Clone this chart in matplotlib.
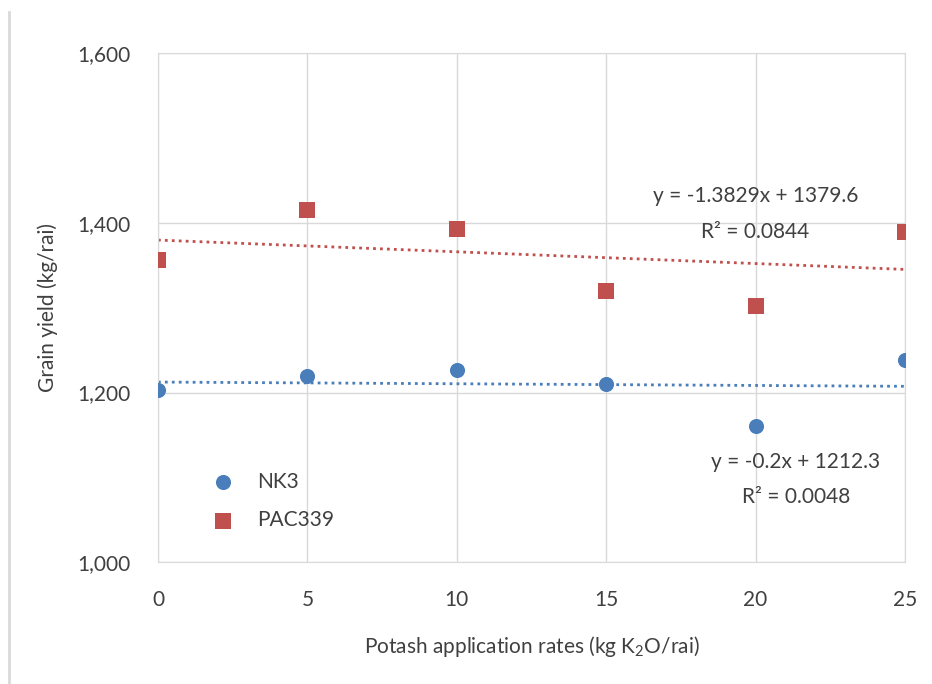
import numpy as np
import matplotlib.pyplot as plt
from matplotlib.lines import Line2D

plt.rcParams['font.family'] = ['Lato', 'DejaVu Sans']
plt.rcParams['mathtext.default'] = 'regular'

# data
potash_rates = [0, 5, 10, 15, 20, 25]
nk3_yield = [1203, 1220, 1227, 1210, 1160, 1238]
pac339_yield = [1356, 1415, 1393, 1320, 1302, 1389]

# trend lines as given on the chart
nk3_fit = (-0.2, 1212.3)
pac339_fit = (-1.3829, 1379.6)
nk3_eq = ['y = -0.2x + 1212.3', 'R² = 0.0048']
pac339_eq = ['y = -1.3829x + 1379.6', 'R² = 0.0844']

y_ticks = [1000, 1200, 1400, 1600]

blue = '#4a7ebb'
red = '#c0504d'
text_col = '#404040'
grid_col = '#d9d9d9'
fs = 15

fig = plt.figure(figsize=(9.32, 6.84), dpi=100)
ax = fig.add_axes([0.1695, 0.178, 0.8015, 0.7445])

x = np.array(potash_rates)
ax.plot(x, nk3_fit[0] * x + nk3_fit[1], linestyle=(0, (1, 1.5)), color=blue, linewidth=2)
ax.plot(x, pac339_fit[0] * x + pac339_fit[1], linestyle=(0, (1, 1.5)), color=red, linewidth=2)

ax.scatter(potash_rates, nk3_yield, s=118, marker='o', color=blue, label='NK3', zorder=3, linewidths=0)
ax.scatter(potash_rates, pac339_yield, s=128, marker='s', color=red, label='PAC339', zorder=3, linewidths=0)

ax.set_xlim(0, 25)
ax.set_ylim(1000, 1600)
ax.set_xticks(potash_rates)
ax.set_yticks(y_ticks)
ax.set_yticklabels(['{:,}'.format(v) for v in y_ticks])
ax.grid(True, color=grid_col, linewidth=1)
ax.set_axisbelow(True)
for s in ax.spines.values():
    s.set_color(grid_col)
ax.tick_params(length=0, labelsize=fs, colors=text_col)
ax.tick_params(axis='x', pad=20)
ax.tick_params(axis='y', pad=20)

ax.set_xlabel('Potash application rates (kg K$_2$O/rai)', fontsize=fs, color=text_col, va='center')
ax.set_ylabel('Grain yield (kg/rai)', fontsize=fs, color=text_col, va='center')
ax.xaxis.set_label_coords(0.5, -0.165)
ax.yaxis.set_label_coords(-0.147, 0.5)

ax.text(20.0, 1431, pac339_eq[0], fontsize=fs, color=text_col, ha='center', va='center')
ax.text(20.0, 1389, pac339_eq[1], fontsize=fs, color=text_col, ha='center', va='center')
ax.text(21.35, 1118, nk3_eq[0], fontsize=fs, color=text_col, ha='center', va='center')
ax.text(21.35, 1077, nk3_eq[1], fontsize=fs, color=text_col, ha='center', va='center')

leg = ax.legend(loc='lower left', bbox_to_anchor=(0.034, 0.026), frameon=False, fontsize=fs,
                labelcolor=text_col, labelspacing=0.9, handletextpad=0.65, scatterpoints=1)

fig.add_artist(Line2D([0.0095, 0.0095], [0, 0.982], color=grid_col, linewidth=2))

fig.savefig('out.png', dpi=100, facecolor='white')
